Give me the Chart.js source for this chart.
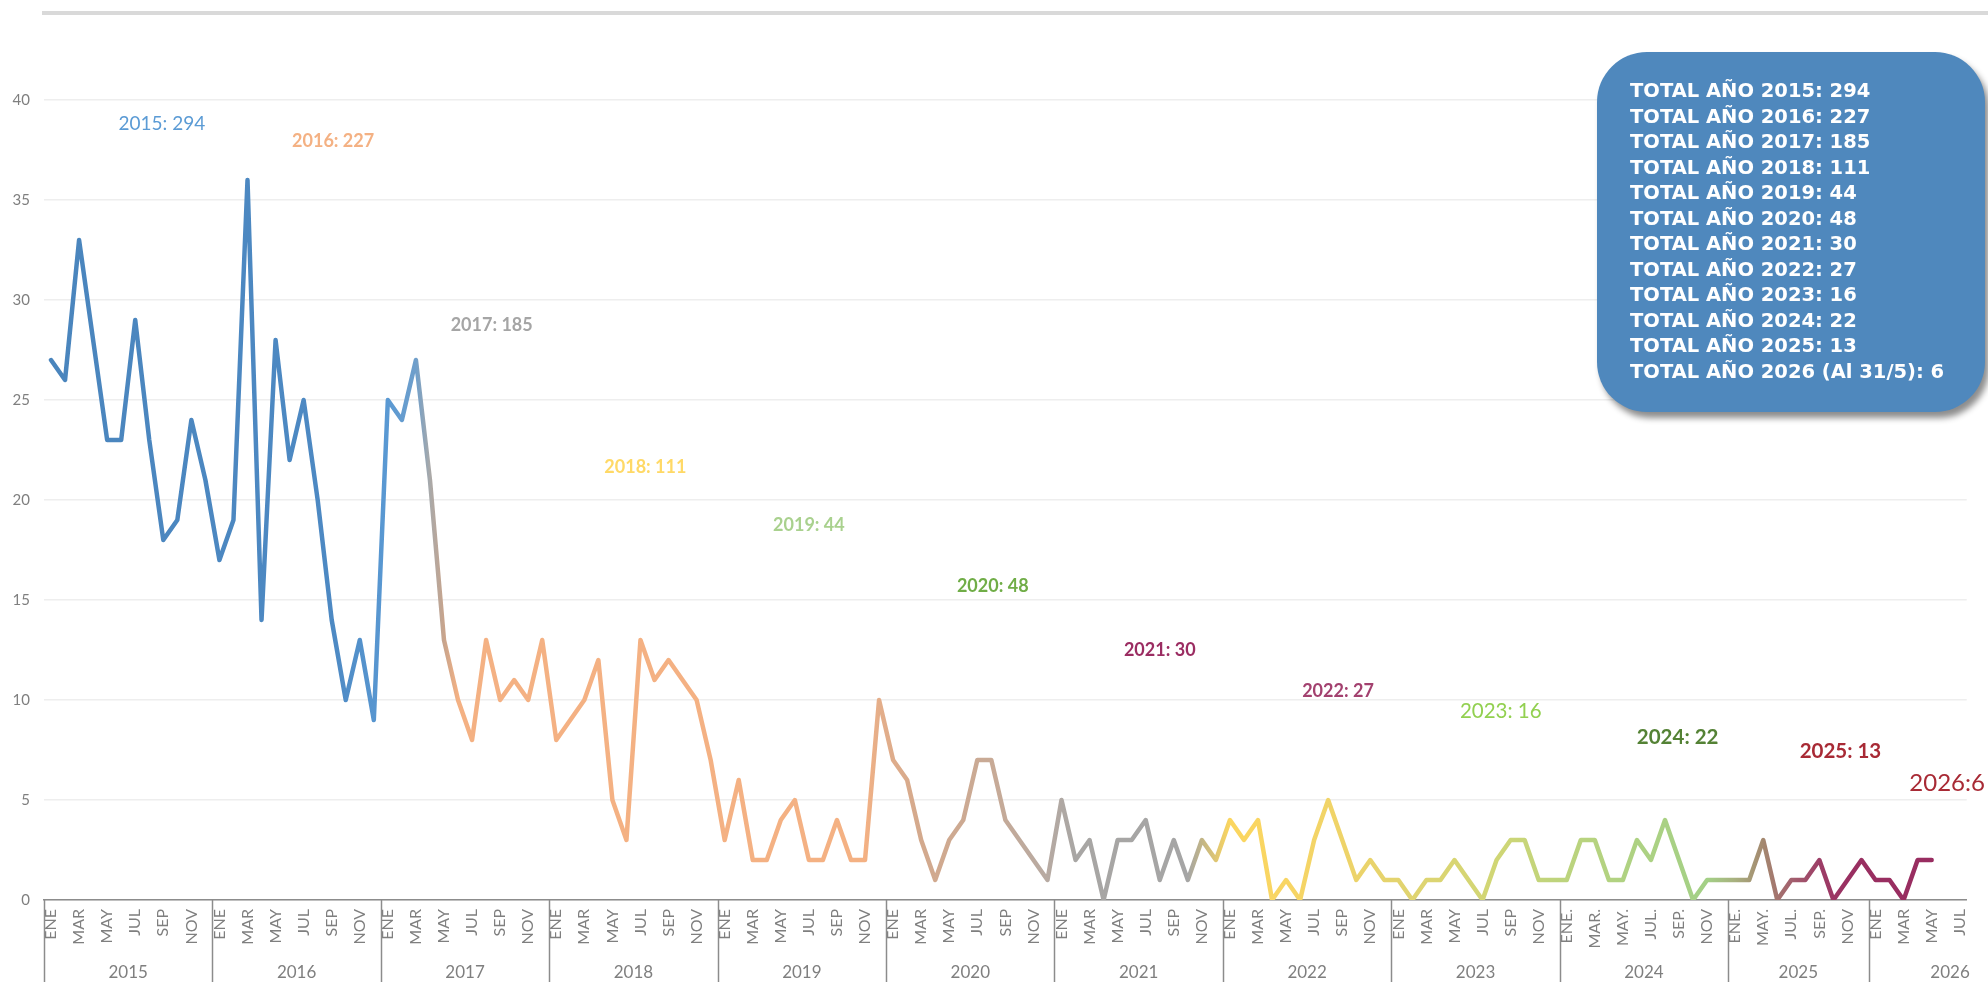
<!DOCTYPE html>
<html>
<head>
<meta charset="utf-8">
<title>Total por año</title>
<script src="https://cdn.jsdelivr.net/npm/chart.js@4.4.1/dist/chart.umd.min.js"></script>
<style>
  html, body { margin: 0; padding: 0; background: #fff; }
  #wrap { position: relative; width: 1988px; height: 982px; overflow: hidden; }
  #topline { position: absolute; left: 42px; top: 11px; width: 1946px; height: 4px; background: #d9d9d9; }
  #totales {
    position: absolute; left: 1597px; top: 52px; width: 388px; height: 360px;
    box-sizing: border-box; padding: 26px 0 0 33px;
    background: #4f88bd; border-radius: 50px;
    box-shadow: 4px 6px 6px rgba(0, 0, 0, 0.45);
    color: #fff; font-family: 'DejaVu Sans', sans-serif; font-weight: bold;
    font-size: 19.5px; line-height: 25.5px; white-space: nowrap;
  }
</style>
</head>
<body>
<div id="wrap">
  <canvas id="line"></canvas>
  <div id="topline"></div>
  <div id="totales"></div>
</div>
<script>
// años y meses
var years = ['2015', '2016', '2017', '2018', '2019', '2020', '2021', '2022', '2023', '2024', '2025', '2026'];
var meses = ['ENE', 'FEB', 'MAR', 'ABR', 'MAY', 'JUN', 'JUL', 'AGO', 'SEP', 'OCT', 'NOV', 'DIC'];
var meses2024 = ['ENE.', 'FEB.', 'MAR.', 'ABR.', 'MAY.', 'JUN.', 'JUL.', 'AGO.', 'SEP.', 'OCT.', 'NOV', 'DIC'];
var meses2025 = ['ENE.', 'FEB.', 'MAY.', 'JUN.', 'JUL.', 'AGO.', 'SEP.', 'OCT.', 'NOV', 'DIC'];
var meses2026 = ['ENE', 'FEB', 'MAR', 'ABR', 'MAY', 'JUN', 'JUL'];

// valores mensuales
var v2015 = [27, 26, 33, 28, 23, 23, 29, 23, 18, 19, 24, 21];
var v2016 = [17, 19, 36, 14, 28, 22, 25, 20, 14, 10, 13, 9];
var v2017 = [25, 24, 27, 21, 13, 10, 8, 13, 10, 11, 10, 13];
var v2018 = [8, 9, 10, 12, 5, 3, 13, 11, 12, 11, 10, 7];
var v2019 = [3, 6, 2, 2, 4, 5, 2, 2, 4, 2, 2, 10];
var v2020 = [7, 6, 3, 1, 3, 4, 7, 7, 4, 3, 2, 1];
var v2021 = [5, 2, 3, 0, 3, 3, 4, 1, 3, 1, 3, 2];
var v2022 = [4, 3, 4, 0, 1, 0, 3, 5, 3, 1, 2, 1];
var v2023 = [1, 0, 1, 1, 2, 1, 0, 2, 3, 3, 1, 1];
var v2024 = [1, 3, 3, 1, 1, 3, 2, 4, 2, 0, 1, 1];
var v2025 = [1, 1, 3, 0, 1, 1, 2, 0, 1, 2];
var v2026 = [1, 1, 0, 2, 2, null, null];

// totales anuales
var totals = [294, 227, 185, 111, 44, 48, 30, 27, 16, 22, 13, 6];
var notaUltimo = ' (Al 31/5)';

var mesesPorAnio = [meses, meses, meses, meses, meses, meses, meses, meses, meses, meses2024, meses2025, meses2026];
var valores = [v2015, v2016, v2017, v2018, v2019, v2020, v2021, v2022, v2023, v2024, v2025, v2026];

var labels = [];
var data = [];
mesesPorAnio.forEach(function (m, k) {
    labels = labels.concat(m);
    data = data.concat(valores[k]);
});

// caja de totales
var last = years.length - 1;
document.getElementById('totales').innerHTML = years.map(function (y, i) {
    return 'TOTAL AÑO ' + y + (i === last ? notaUltimo : '') + ': ' + totals[i];
}).join('<br>');

// estilos: color del trazo por posición de mes, y etiquetas de año dentro del gráfico
var paradasColor = [
    [0, '#4a85bd'], [20, '#4d89c3'], [24, '#5a99d3'], [26, '#6f9fcb'], [27, '#a9a9a9'],
    [28, '#c8a48c'], [29, '#f4b183'], [58, '#f4b183'], [59, '#e4ae8a'], [62, '#d3a98d'],
    [67, '#c8aa96'], [71, '#b7aaa2'], [73, '#a8a6a4'], [81, '#a5a5a5'], [82, '#c2b586'],
    [84, '#fbd65f'], [88, '#f8d564'], [93, '#ecd36a'], [97, '#e0d470'], [103, '#d0d675'],
    [107, '#bfd47c'], [112, '#b0d282'], [118, '#a3d086'], [120, '#a8b07f'], [122, '#a4886f'],
    [124, '#a3606e'], [126, '#9d3e67'], [128, '#992f61'], [136, '#982c60']
];
var estiloAnot = [
    { i: 7.9, v: 38.8, color: '#5b9bd5', size: 19, bold: false },
    { i: 20.1, v: 37.95, color: '#f4b183', size: 18, bold: true },
    { i: 31.4, v: 28.75, color: '#a5a5a5', size: 18, bold: true },
    { i: 42.35, v: 21.65, color: '#ffd966', size: 18, bold: true },
    { i: 54.0, v: 18.75, color: '#a9d18e', size: 18, bold: true },
    { i: 67.1, v: 15.7, color: '#70ad47', size: 18, bold: true },
    { i: 79.0, v: 12.5, color: '#9b2d62', size: 18, bold: true },
    { i: 91.7, v: 10.45, color: '#a3416f', size: 18, bold: true },
    { i: 103.3, v: 9.45, color: '#92d050', size: 20.5, bold: false },
    { i: 115.9, v: 8.15, color: '#548235', size: 20.5, bold: true },
    { i: 127.5, v: 7.45, color: '#a82a35', size: 20.5, bold: true },
    { i: 135.1, v: 5.85, color: '#a82a35', size: 24, bold: false }
];

function degradado(context) {
    var chart = context.chart;
    var area = chart.chartArea;
    if (!area || !chart.scales.x) return '#4a85bd';
    var xs = chart.scales.x;
    var w = area.right - area.left;
    var g = chart.ctx.createLinearGradient(area.left, 0, area.right, 0);
    paradasColor.forEach(function (p) {
        var off = (xs.getPixelForValue(p[0]) - area.left) / w;
        g.addColorStop(Math.min(1, Math.max(0, off)), p[1]);
    });
    return g;
}

var anotaciones = {
    id: 'anotaciones',
    afterDraw: function (chart) {
        var ctx = chart.ctx;
        var x = chart.scales.x, y = chart.scales.y;
        var area = chart.chartArea;
        ctx.save();
        // textos de año dentro del gráfico
        years.forEach(function (yr, k) {
            var a = estiloAnot[k];
            var t = k === last ? yr + ':' + totals[k] : yr + ': ' + totals[k];
            ctx.font = (a.bold ? 'bold ' : '') + a.size + 'px Lato';
            ctx.fillStyle = a.color;
            ctx.textAlign = 'center';
            ctx.textBaseline = 'middle';
            ctx.fillText(t, x.getPixelForValue(a.i), y.getPixelForValue(a.v));
        });
        // separadores y años del eje
        var half = (x.getPixelForValue(1) - x.getPixelForValue(0)) / 2;
        var start = 0;
        ctx.strokeStyle = '#8c8c8c';
        ctx.lineWidth = 1.5;
        ctx.fillStyle = '#7f7f7f';
        ctx.font = '17px Lato';
        ctx.textBaseline = 'middle';
        mesesPorAnio.forEach(function (m, k) {
            var x0 = x.getPixelForValue(start) - half;
            var x1 = x.getPixelForValue(start + m.length - 1) + half;
            ctx.beginPath();
            ctx.moveTo(Math.round(x0) + 0.5, area.bottom);
            ctx.lineTo(Math.round(x0) + 0.5, chart.height);
            ctx.stroke();
            if (k === last) {
                ctx.textAlign = 'right';
                ctx.fillText(years[k], x1 + 3, 973);
            } else {
                ctx.textAlign = 'center';
                ctx.fillText(years[k], (x0 + x1) / 2, 973);
            }
            start += m.length;
        });
        ctx.restore();
    }
};

var ctx = document.getElementById('line').getContext('2d');
var chart = new Chart(ctx, {
    type: 'line',
    data: {
        labels: labels,
        datasets: [{
            data: data,
            borderColor: degradado,
            borderWidth: 4.5,
            pointRadius: 0,
            tension: 0,
            borderJoinStyle: 'round',
            borderCapStyle: 'round',
            spanGaps: false
        }]
    },
    options: {
        responsive: true,
        maintainAspectRatio: false,
        devicePixelRatio: 1,
        animation: false,
        layout: { padding: { top: 100, right: 19, bottom: 0, left: 0 } },
        plugins: { legend: { display: false }, tooltip: { enabled: false } },
        scales: {
            x: {
                type: 'category',
                offset: true,
                grid: { display: false, drawTicks: false },
                border: { display: true, color: '#8c8c8c', width: 1.5 },
                ticks: {
                    autoSkip: false, maxRotation: 90, minRotation: 90, padding: 9,
                    color: '#7f7f7f', font: { family: 'Lato', size: 16 },
                    callback: function (v, i) { return i % 2 === 0 ? labels[i] : ''; }
                },
                afterFit: function (s) { s.height = 82; }
            },
            y: {
                min: 0, max: 40,
                ticks: { stepSize: 5, padding: 14, color: '#7f7f7f', font: { family: 'Lato', size: 15 } },
                grid: { color: '#eeeeee', lineWidth: 1.5, drawTicks: false },
                border: { display: false },
                afterFit: function (s) { s.width = 44; }
            }
        }
    },
    plugins: [anotaciones]
});
</script>
</body>
</html>
